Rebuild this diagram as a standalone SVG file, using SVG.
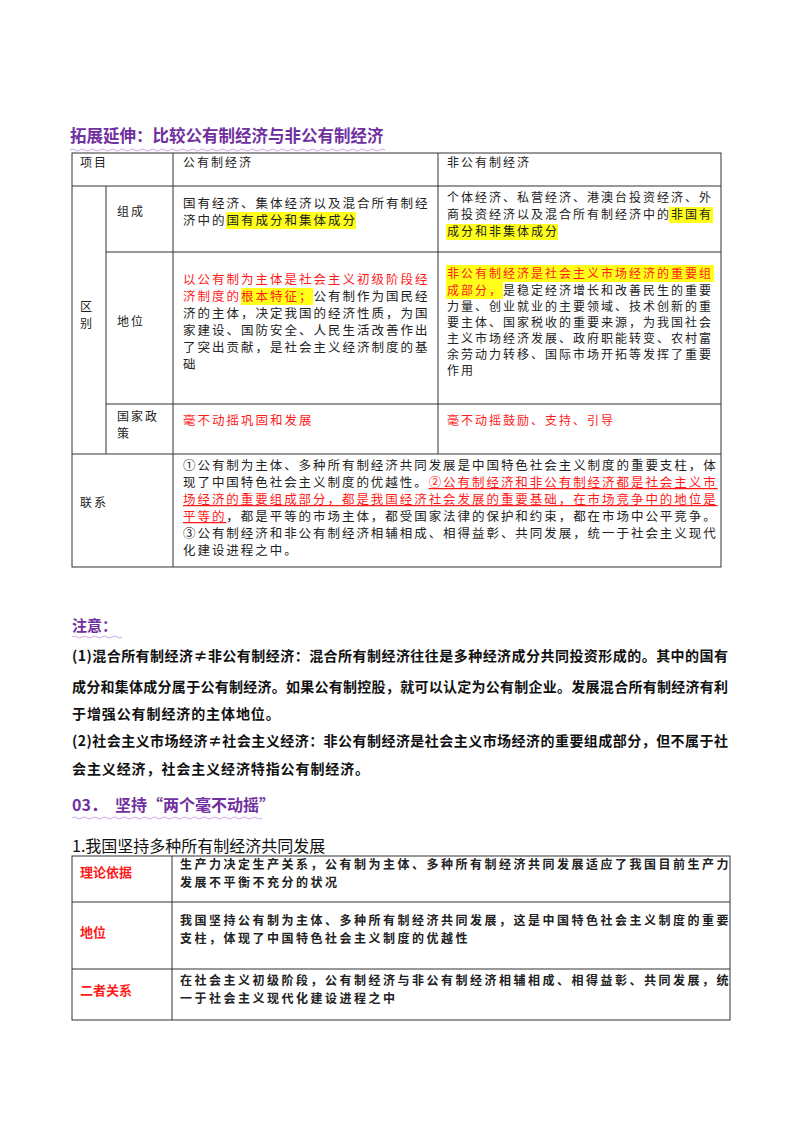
<svg xmlns="http://www.w3.org/2000/svg" width="800" height="1132" viewBox="0 0 800 1132">
<style>
.t{font-family:"Noto Sans CJK SC","Liberation Sans",sans-serif;fill:#222}
.c1{font-size:12.5px;letter-spacing:2px}
.c2{font-size:12px;letter-spacing:2px}
.c3{font-size:12.5px;letter-spacing:1.95px}
.r{fill:#ff1a1a}
.h{fill:#ffff1a}
.ttl{font-family:"Noto Sans CJK SC",sans-serif;font-weight:bold;fill:#7030a0}
.nb{font-family:"Noto Sans CJK SC",sans-serif;font-weight:bold;font-size:14px;fill:#111}
.tb{font-family:"Noto Sans CJK SC",sans-serif;font-weight:bold;font-size:12px;letter-spacing:2.5px;fill:#222}
.lb{font-family:"Noto Sans CJK SC",sans-serif;font-weight:bold;font-size:13px;fill:#ff1a1a}
.ln{stroke:#333;stroke-width:1;fill:none}
.wv{stroke:#c9a6e6;stroke-width:1;fill:none}
</style>
<rect width="800" height="1132" fill="#fff"/>
<g id="title1">
<text class="ttl" x="70" y="142" font-size="16.5">拓展延伸：比较公有制经济与非公有制经济</text>
<path class="wv" d="M70 150 q2.5 -2 5 0 t5 0 t5 0 t5 0 t5 0 t5 0 t5 0 t5 0 t5 0 t5 0 t5 0 t5 0 t5 0 t5 0 t5 0 t5 0 t5 0 t5 0 t5 0 t5 0 t5 0 t5 0 t5 0 t5 0 t5 0 t5 0 t5 0 t5 0 t5 0 t5 0 t5 0 t5 0 t5 0 t5 0 t5 0 t5 0 t5 0 t5 0 t5 0 t5 0 t5 0 t5 0 t5 0 t5 0 t5 0 t5 0 t5 0 t5 0 t5 0 t5 0 t5 0 t5 0 t5 0 t5 0 t5 0 t5 0 t5 0 t5 0 t5 0 t5 0 t5 0 t5 0 t5 0"/>
</g>
<g id="table1">
<g id="t1-grid" class="ln">
<rect x="72" y="153" width="649" height="414"/>
<line x1="72" y1="186" x2="721" y2="186"/>
<line x1="106" y1="252" x2="721" y2="252"/>
<line x1="106" y1="404" x2="721" y2="404"/>
<line x1="72" y1="454" x2="721" y2="454"/>
<line x1="106" y1="186" x2="106" y2="454"/>
<line x1="173" y1="153" x2="173" y2="567"/>
<line x1="438" y1="153" x2="438" y2="454"/>
</g>
<g id="t1-header">
<text class="t c2" x="80" y="167">项目</text>
<text class="t c2" x="183" y="167">公有制经济</text>
<text class="t c2" x="447" y="167">非公有制经济</text>
</g>
<g id="t1-labels">
<text class="t c2" x="80" y="311">区</text>
<text class="t c2" x="80" y="328">别</text>
<text class="t c2" x="117" y="216">组成</text>
<text class="t c2" x="117" y="326">地位</text>
<text class="t c2" x="117" y="421" letter-spacing="7px">国家政</text>
<text class="t c2" x="117" y="438">策</text>
<text class="t c2" x="80" y="507">联系</text>
</g>
<g id="t1-zucheng">
<rect class="h" x="226" y="212" width="130" height="17"/>
<text class="t c1" x="183" y="208">国有经济、集体经济以及混合所有制经</text>
<text class="t c1" x="183" y="225">济中的国有成分和集体成分</text>
<rect class="h" x="669" y="207" width="44" height="16"/>
<rect class="h" x="446" y="224" width="112" height="16"/>
<text class="t c2" x="447" y="202">个体经济、私营经济、港澳台投资经济、外</text>
<text class="t c2" x="447" y="219">商投资经济以及混合所有制经济中的非国有</text>
<text class="t c2" x="447" y="236">成分和非集体成分</text>
</g>
<g id="t1-diwei">
<rect class="h" x="241" y="288" width="72" height="17"/>
<text class="t c1 r" x="183" y="284">以公有制为主体是社会主义初级阶段经</text>
<text class="t c1" x="183" y="301"><tspan class="r">济制度的根本特征；</tspan>公有制作为国民经</text>
<text class="t c1" x="183" y="318">济的主体，决定我国的经济性质，为国</text>
<text class="t c1" x="183" y="335">家建设、国防安全、人民生活改善作出</text>
<text class="t c1" x="183" y="352">了突出贡献，是社会主义经济制度的基</text>
<text class="t c1" x="183" y="369">础</text>
<rect class="h" x="446" y="265" width="268" height="17"/>
<rect class="h" x="446" y="282" width="57" height="17"/>
<text class="t c2 r" x="447" y="278">非公有制经济是社会主义市场经济的重要组</text>
<text class="t c2" x="447" y="295"><tspan class="r">成部分，</tspan>是稳定经济增长和改善民生的重要</text>
<text class="t c2" x="447" y="311">力量、创业就业的主要领域、技术创新的重</text>
<text class="t c2" x="447" y="327">要主体、国家税收的重要来源，为我国社会</text>
<text class="t c2" x="447" y="343">主义市场经济发展、政府职能转变、农村富</text>
<text class="t c2" x="447" y="359">余劳动力转移、国际市场开拓等发挥了重要</text>
<text class="t c2" x="447" y="375">作用</text>
</g>
<g id="t1-zhengce">
<text class="t c1 r" x="183" y="425">毫不动摇巩固和发展</text>
<text class="t c2 r" x="447" y="425">毫不动摇鼓励、支持、引导</text>
</g>
<g id="t1-lianxi">
<text class="t c3" x="183" y="470">①公有制为主体、多种所有制经济共同发展是中国特色社会主义制度的重要支柱，体</text>
<text class="t c3" x="183" y="487">现了中国特色社会主义制度的优越性。<tspan class="r" text-decoration="underline">②公有制经济和非公有制经济都是社会主义市</tspan></text>
<text class="t c3 r" x="183" y="504" text-decoration="underline">场经济的重要组成部分，都是我国经济社会发展的重要基础，在市场竞争中的地位是</text>
<text class="t c3" x="183" y="521"><tspan class="r" text-decoration="underline">平等的</tspan>，都是平等的市场主体，都受国家法律的保护和约束，都在市场中公平竞争。</text>
<text class="t c3" x="183" y="538">③公有制经济和非公有制经济相辅相成、相得益彰、共同发展，统一于社会主义现代</text>
<text class="t c3" x="183" y="555">化建设进程之中。</text>
</g>
</g>
<g id="notes">
<text class="ttl" x="72" y="631" font-size="15">注意：</text>
<path class="wv" d="M72 637 q2.5 -2 5 0 t5 0 t5 0 t5 0 t5 0 t5 0 t5 0 t5 0 t5 0 t5 0"/>
<text class="nb" x="72" y="661" textLength="656" lengthAdjust="spacing">(1)混合所有制经济≠非公有制经济：混合所有制经济往往是多种经济成分共同投资形成的。其中的国有</text>
<text class="nb" x="72" y="692" textLength="656" lengthAdjust="spacing">成分和集体成分属于公有制经济。如果公有制控股，就可以认定为公有制企业。发展混合所有制经济有利</text>
<text class="nb" x="72" y="719" letter-spacing="0.9">于增强公有制经济的主体地位。</text>
<text class="nb" x="72" y="746" textLength="656" lengthAdjust="spacing">(2)社会主义市场经济≠社会主义经济：非公有制经济是社会主义市场经济的重要组成部分，但不属于社</text>
<text class="nb" x="72" y="774" letter-spacing="0.9">会主义经济，社会主义经济特指公有制经济。</text>
</g>
<g id="title2">
<text class="ttl" x="72" y="811" font-size="16">03．</text>
<text class="ttl" x="115" y="811" font-size="16">坚持“两个毫不动摇”</text>
<path class="wv" d="M72 818 q2.5 -2 5 0 t5 0 t5 0 t5 0 t5 0 t5 0 t5 0 t5 0 t5 0 t5 0 t5 0 t5 0 t5 0 t5 0 t5 0 t5 0 t5 0 t5 0 t5 0 t5 0 t5 0 t5 0 t5 0 t5 0 t5 0 t5 0 t5 0 t5 0 t5 0 t5 0 t5 0 t5 0 t5 0 t5 0 t5 0 t5 0 t5 0 t5 0"/>
</g>
<g id="table2">
<text x="72" y="852" font-family="Noto Sans CJK SC,sans-serif" font-size="16" fill="#111">1.我国坚持多种所有制经济共同发展</text>
<g class="ln">
<rect x="72" y="856" width="658" height="164"/>
<line x1="72" y1="902" x2="730" y2="902"/>
<line x1="72" y1="969" x2="730" y2="969"/>
<line x1="172" y1="856" x2="172" y2="1020"/>
</g>
<g id="t2-r1">
<text class="lb" x="80" y="877">理论依据</text>
<text class="tb" x="180" y="869">生产力决定生产关系，公有制为主体、多种所有制经济共同发展适应了我国目前生产力</text>
<text class="tb" x="180" y="887">发展不平衡不充分的状况</text>
</g>
<g id="t2-r2">
<text class="lb" x="80" y="937">地位</text>
<text class="tb" x="180" y="925">我国坚持公有制为主体、多种所有制经济共同发展，这是中国特色社会主义制度的重要</text>
<text class="tb" x="180" y="943">支柱，体现了中国特色社会主义制度的优越性</text>
</g>
<g id="t2-r3">
<text class="lb" x="80" y="995">二者关系</text>
<text class="tb" x="180" y="985">在社会主义初级阶段，公有制经济与非公有制经济相辅相成、相得益彰、共同发展，统</text>
<text class="tb" x="180" y="1003">一于社会主义现代化建设进程之中</text>
</g>
</g>
</svg>
